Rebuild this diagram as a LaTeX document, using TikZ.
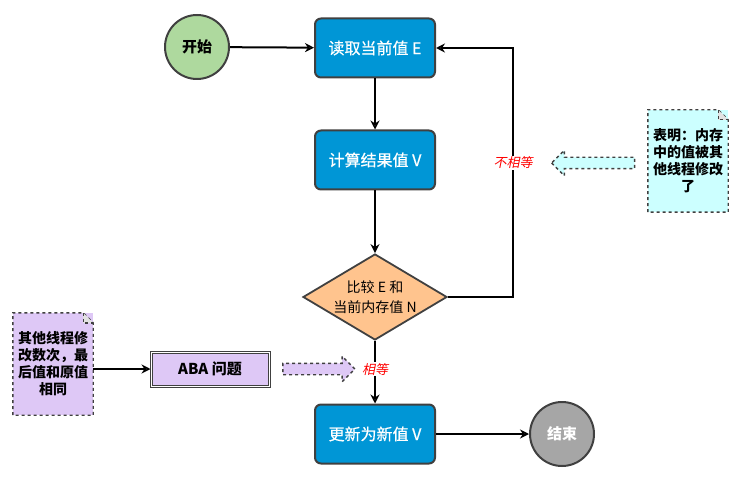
\documentclass[tikz,border=0pt]{standalone}
\usepackage{fontspec}
\setmainfont{Noto Sans CJK SC}
\newfontfamily\slantfont[FakeSlant=0.2]{Noto Sans CJK SC}
\newfontfamily\medfont[FakeBold=0.6]{Noto Sans CJK SC}
\usetikzlibrary{arrows.meta,shapes.geometric,shapes.arrows}
\definecolor{procblue}{RGB}{0,150,214}
\definecolor{startgreen}{RGB}{174,217,158}
\definecolor{endgray}{RGB}{166,166,166}
\definecolor{cmporange}{RGB}{255,196,142}
\definecolor{abapurple}{RGB}{222,200,246}
\definecolor{notecyan}{RGB}{204,255,255}
\definecolor{edgegray}{RGB}{64,64,64}

\begin{document}
\begin{tikzpicture}[x=1pt,y=-1pt,
  proc/.style={draw=edgegray, line width=2pt, rounded corners=6pt, fill=procblue,
    minimum width=120pt, minimum height=59pt, text=white,
    font=\medfont\fontsize{16}{19}\selectfont},
  term/.style={circle, draw=edgegray, line width=2pt, minimum size=64pt,
    font=\bfseries\fontsize{15}{18}\selectfont},
  cmp/.style={diamond, draw=edgegray, line width=1.8pt, fill=cmporange,
    minimum width=144pt, minimum height=86pt, inner sep=0pt},
  cmptext/.style={align=center, inner sep=0pt, font=\fontsize{14}{20}\selectfont},
  arr/.style={line width=2pt, -{Stealth[open,length=9pt,width=9pt]}},
  lbl/.style={fill=white, text=red, inner sep=1pt, font=\slantfont\fontsize{13}{15}\selectfont},
  notetext/.style={minimum width=80pt, minimum height=102pt, align=center,
    inner sep=2pt, font=\bfseries\fontsize{14}{17}\selectfont},
  noteline/.style={draw=edgegray, line width=1.4pt, dashed},
  fatarrow/.style={single arrow, draw=edgegray, line width=1.4pt, dashed,
    minimum height=80pt, minimum width=24pt, single arrow head extend=7pt,
    inner xsep=0pt, inner ysep=5pt}
]
  \useasboundingbox (0,0) rectangle (743,478);

  %% Main flow
  \node[term, fill=startgreen] (start) at (197,47) {开始};
  \node[proc] (read) at (375,48) {读取当前值 E};
  \node[proc] (calc) at (375,160) {计算结果值 V};
  \node[cmp] (cmp) at (375,297) {};
  \node[cmptext] (cmplabel) at (cmp) {比较 E 和\\当前内存值 N};
  \node[proc] (upd) at (375,434) {更新为新值 V};
  \node[term, fill=endgray, text=white, minimum size=64pt] (end) at (562,434) {结束};

  \draw[arr] (start) -- (read);
  \draw[arr] (read) -- (calc);
  \draw[arr] (calc) -- (cmp);
  \draw[arr] (cmp) -- (upd) node[lbl, pos=0.45] (eq) {相等};
  \draw[arr] (upd) -- (end);

  %% Loop back when not equal
  \coordinate (back) at (513,163);
  \draw[arr] (cmp.east) -| (back) |- (read.east);
  \node[lbl] (neq) at (back) {不相等};

  %% Note on the right
  \node[notetext, fill=notecyan] (note1) at (688,161) {表明：内存\\中的值被其\\他线程修改\\了};
  \draw[noteline] (note1.south west) -- (note1.north west)
    -- ([xshift=-10pt]note1.north east) -- ([yshift=-10pt]note1.north east)
    -- (note1.south east) -- cycle;
  \draw[noteline, fill=edgegray!15] ([xshift=-10pt]note1.north east)
    -- ([xshift=-10pt,yshift=-10pt]note1.north east) -- ([yshift=-10pt]note1.north east);
  \node[fatarrow, fill=notecyan, shape border rotate=180, minimum height=83pt] (hint1) at (596,163) {};

  %% ABA problem
  \node[notetext, fill=abapurple] (note2) at (53,364) {其他线程修\\改数次，最\\后值和原值\\相同};
  \draw[noteline] (note2.south west) -- (note2.north west)
    -- ([xshift=-10pt]note2.north east) -- ([yshift=-10pt]note2.north east)
    -- (note2.south east) -- cycle;
  \draw[noteline, fill=edgegray!15] ([xshift=-10pt]note2.north east)
    -- ([xshift=-10pt,yshift=-10pt]note2.north east) -- ([yshift=-10pt]note2.north east);
  \node[draw=edgegray, line width=1pt, double=white, double distance=1pt,
    fill=abapurple, minimum width=118pt, minimum height=34pt,
    font=\bfseries\fontsize{15}{18}\selectfont] (aba) at (210,369) {ABA 问题};
  \draw[arr] (note2.east |- aba) -- (aba);
  \node[fatarrow, fill=abapurple, minimum height=72pt] (hint2) at (316,369) {};
\end{tikzpicture}
\end{document}
